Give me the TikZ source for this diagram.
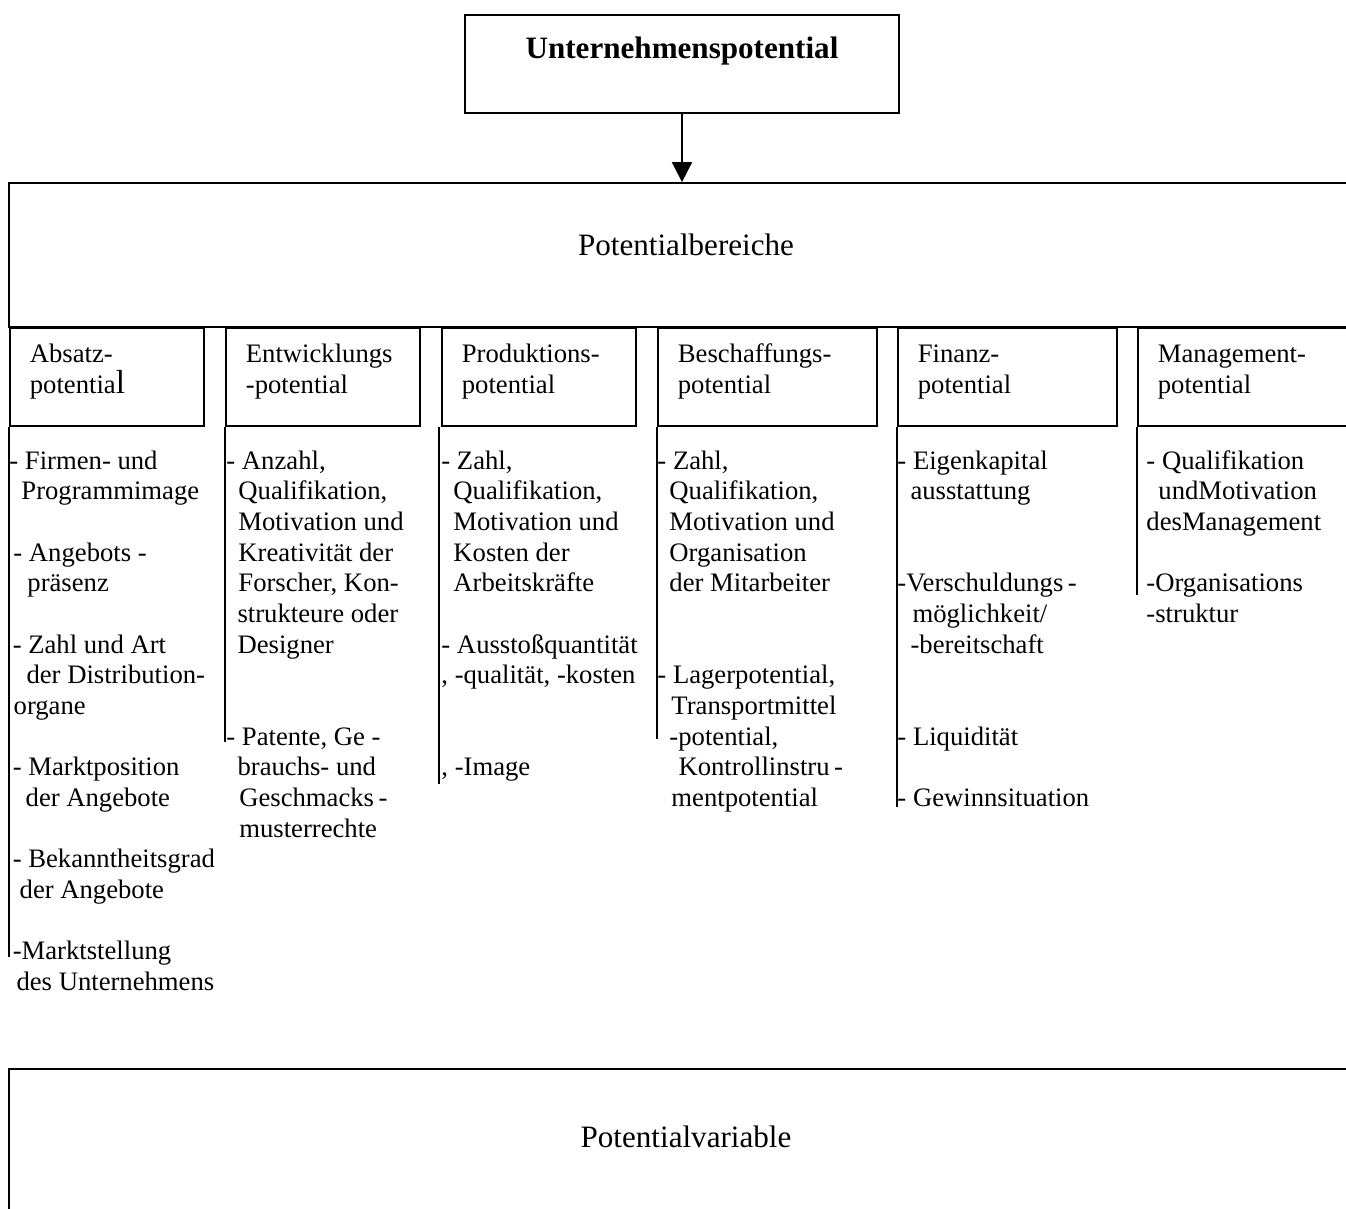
\documentclass[tikz,border=0pt]{standalone}
\usepackage{fontspec}
\setmainfont{Liberation Serif}
\usetikzlibrary{arrows.meta,positioning}

\begin{document}
\begin{tikzpicture}[
  x=0.45pt, y=-0.45pt,
  box/.style={
    draw,
    line width=0.8pt,
    minimum width=#1,
    minimum height=64.8pt,
    text height=9.6pt,
    text depth=9.6pt,
    inner sep=0pt,
    font=\fontsize{14}{16}\selectfont
  },
  headbox/.style={
    draw,
    line width=0.8pt,
    anchor=north west,
    align=flush left,
    text width=#1,
    inner xsep=9pt,
    inner ysep=0pt,
    minimum height=44.1pt,
    text height=8.2pt,
    text depth=20.8pt,
    font=\fontsize{12}{13.8}\selectfont
  },
  listtext/.style={
    anchor=base west,
    align=flush left,
    text width=110pt,
    inner sep=0pt,
    font=\fontsize{12}{13.8}\selectfont
  },
  bar/.style={line width=0.8pt},
  arrow/.style={-{Triangle[length=9pt,width=9pt]}, line width=0.8pt}
]
\useasboundingbox[fill=white] (0,0) rectangle (1346,1208);
\clip (0,0) rectangle (1346,1208);

\node[box=195.3pt, minimum height=44.1pt, text depth=15pt,
  font=\bfseries\fontsize{14}{16}\selectfont] (mainbox) at (682,64)
  {Unternehmenspotential};
\node[box=609.3pt] (areabox) at (686,255) {Potentialbereiche};
\node[box=609.3pt, minimum height=70.2pt] (varbox) at (686,1147)
  {Potentialvariable};

\draw[arrow] (mainbox.south) -- (mainbox.south |- areabox.north);

\node[headbox=69.3pt] (absatzbox) at (9,327)
  {Absatz-\\potentia{\fontsize{15}{13.8}\selectfont l}};
\node[headbox=69.3pt] (entwbox) at (225,327) {Entwicklungs\\-potential};
\node[headbox=69.3pt] (prodbox) at (441,327) {Produktions-\\potential};
\node[headbox=80.55pt] (beschbox) at (657,327) {Beschaffungs-\\potential};
\node[headbox=80.55pt] (finbox) at (897,327) {Finanz-\\potential};
\node[headbox=80.55pt] (mgmtbox) at (1137,327) {Management-\\potential};

\node[listtext] (absatzlist) at (9,469)
  {- Firmen- und\\
   \hspace*{5.4pt}Programmimage\\[13.8pt]
   \hspace*{1.8pt}- Angebots -\\
   \hspace*{8.1pt}präsenz\\[13.8pt]
   \hspace*{1.5pt}- Zahl und Art\\
   \hspace*{7.7pt}der Distribution-\\
   \hspace*{1.9pt}organe\\[13.8pt]
   \hspace*{1.5pt}- Marktposition\\
   \hspace*{7.3pt}der Angebote\\[13.8pt]
   \hspace*{1.5pt}- Bekanntheitsgrad\\
   \hspace*{4.6pt}der Angebote\\[13.8pt]
   \hspace*{1.5pt}-Marktstellung\\
   \hspace*{3.2pt}des Unternehmens};
\node[listtext] (entwlist) at (226,469)
  {- Anzahl,\\
   \hspace*{5.4pt}Qualifikation,\\
   \hspace*{5.4pt}Motivation und\\
   \hspace*{5.4pt}Kreativität der\\
   \hspace*{5.4pt}Forscher, Kon-\\
   \hspace*{5pt}strukteure oder\\
   \hspace*{5pt}Designer\\[27.6pt]
   - Patente, Ge -\\
   \hspace*{5pt}brauchs- und\\
   \hspace*{5.8pt}Geschmacks\,-\\
   \hspace*{5.8pt}musterrechte};
\node[listtext] (prodlist) at (441,469)
  {- Zahl,\\
   \hspace*{5.4pt}Qualifikation,\\
   \hspace*{5.4pt}Motivation und\\
   \hspace*{5.4pt}Kosten der\\
   \hspace*{5.4pt}Arbeitskräfte\\[13.8pt]
   - Ausstoßquantität\\
   , -qualität, -kosten\\[27.6pt]
   , -Image};
\node[listtext] (beschlist) at (657,469)
  {- Zahl,\\
   \hspace*{5.4pt}Qualifikation,\\
   \hspace*{5.4pt}Motivation und\\
   \hspace*{5.4pt}Organisation\\
   \hspace*{5.4pt}der Mitarbeiter\\[27.6pt]
   - Lagerpotential,\\
   \hspace*{6.3pt}Transportmittel\\
   \hspace*{5.4pt}-potential,\\
   \hspace*{9.5pt}Kontrollinstru\,-\\
   \hspace*{6.3pt}mentpotential};
\node[listtext] (finlist) at (897,469)
  {- Eigenkapital\\
   \hspace*{5.9pt}ausstattung\\[27.6pt]
   -Verschuldungs\,-\\
   \hspace*{6.8pt}möglichkeit/\\
   \hspace*{5.9pt}-bereitschaft\\[27.6pt]
   - Liquidität\\[13.8pt]
   - Gewinnsituation};
\node[listtext] (mgmtlist) at (1146,469)
  {- Qualifikation\\
   \hspace*{5.4pt}undMotivation\\
   desManagement\\[13.8pt]
   -Organisations\\
   -struktur};

\draw[bar] (absatzbox.south west) -- ++(0,530);
\draw[bar] (entwbox.south west) -- ++(0,315);
\draw[bar] ([xshift=-0.9pt]prodbox.south west) -- ++(0,357);
\draw[bar] (beschbox.south west) -- ++(0,312);
\draw[bar] (finbox.south west) -- ++(0,380);
\draw[bar] (mgmtbox.south west) -- ++(0,168);
\end{tikzpicture}
\end{document}
